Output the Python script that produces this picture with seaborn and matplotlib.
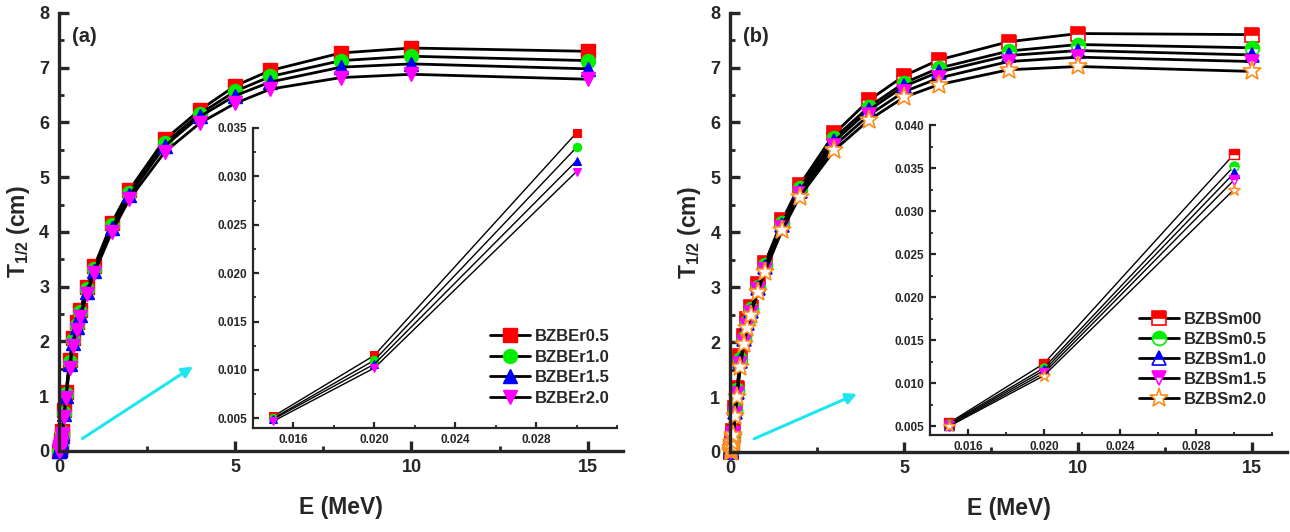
import matplotlib
matplotlib.use("Agg")
import matplotlib.pyplot as plt
import seaborn as sns
import pandas as pd
from matplotlib.ticker import MultipleLocator, FormatStrFormatter

# ---------------- data ----------------
energy = [0.015, 0.02, 0.03, 0.04, 0.05, 0.06, 0.08, 0.1, 0.15, 0.2, 0.3, 0.4, 0.5,
          0.6, 0.8, 1.0, 1.5, 2, 3, 4, 5, 6, 8, 10, 15]

# panel (a)
bzber05 = [0.0052, 0.0115, 0.0345, 0.075, 0.13, 0.20, 0.30, 0.36, 0.74, 1.08, 1.66, 2.06, 2.36,
           2.58, 3.00, 3.37, 4.17, 4.77, 5.69, 6.23, 6.67, 6.95, 7.27, 7.36, 7.30]
bzber10 = [0.0050, 0.0110, 0.0330, 0.072, 0.125, 0.19, 0.28, 0.34, 0.70, 1.04, 1.62, 2.02, 2.31,
           2.53, 2.95, 3.32, 4.12, 4.72, 5.62, 6.16, 6.57, 6.84, 7.13, 7.21, 7.13]
bzber15 = [0.0049, 0.0106, 0.0316, 0.069, 0.12, 0.18, 0.27, 0.33, 0.67, 1.01, 1.58, 1.98, 2.27,
           2.49, 2.91, 3.29, 4.08, 4.67, 5.57, 6.11, 6.49, 6.74, 7.01, 7.07, 6.98]
bzber20 = [0.0047, 0.0102, 0.0305, 0.066, 0.115, 0.17, 0.26, 0.31, 0.62, 0.97, 1.52, 1.91, 2.21,
           2.44, 2.87, 3.25, 4.00, 4.60, 5.46, 5.99, 6.35, 6.61, 6.82, 6.88, 6.79]
labels_a = ["BZBEr0.5", "BZBEr1.0", "BZBEr1.5", "BZBEr2.0"]

# panel (b)
bzbsm00 = [0.0054, 0.0123, 0.0366, 0.080, 0.14, 0.21, 0.31, 0.38, 0.80, 1.16, 1.74, 2.12, 2.42,
           2.64, 3.05, 3.44, 4.22, 4.86, 5.80, 6.41, 6.85, 7.14, 7.47, 7.62, 7.60]
bzbsm05 = [0.0053, 0.0118, 0.0352, 0.077, 0.135, 0.20, 0.30, 0.36, 0.76, 1.12, 1.69, 2.08, 2.37,
           2.60, 3.01, 3.40, 4.17, 4.80, 5.72, 6.29, 6.72, 6.99, 7.30, 7.42, 7.36]
bzbsm10 = [0.0052, 0.0115, 0.0344, 0.075, 0.13, 0.195, 0.29, 0.35, 0.73, 1.09, 1.65, 2.05, 2.34,
           2.57, 2.98, 3.37, 4.13, 4.75, 5.66, 6.23, 6.66, 6.92, 7.22, 7.31, 7.23]
bzbsm15 = [0.0051, 0.0112, 0.0336, 0.073, 0.125, 0.19, 0.28, 0.33, 0.70, 1.05, 1.60, 2.01, 2.30,
           2.54, 2.95, 3.32, 4.08, 4.70, 5.58, 6.14, 6.56, 6.81, 7.11, 7.19, 7.11]
bzbsm20 = [0.0050, 0.0109, 0.0325, 0.070, 0.12, 0.18, 0.27, 0.31, 0.66, 1.00, 1.55, 1.97, 2.25,
           2.50, 2.92, 3.28, 4.04, 4.65, 5.50, 6.05, 6.46, 6.69, 6.96, 7.02, 6.93]
labels_b = ["BZBSm00", "BZBSm0.5", "BZBSm1.0", "BZBSm1.5", "BZBSm2.0"]

n_inset = 3  # first three energies shown in the insets

# ---------------- style ----------------
sns.set_style("ticks")
plt.rcParams["font.family"] = ["Liberation Sans", "DejaVu Sans"]
plt.rcParams.update({
    "font.weight": "bold",
    "axes.labelweight": "bold",
    "mathtext.fontset": "custom",
    "mathtext.rm": "Liberation Sans:bold",
    "mathtext.bf": "Liberation Sans:bold",
    "mathtext.it": "Liberation Sans:bold",
})

fig = plt.figure(figsize=(12.9, 5.32), dpi=100)
axA = fig.add_axes([0.0457, 0.1523, 0.4372, 0.8233])
axB = fig.add_axes([0.5659, 0.1504, 0.4318, 0.8258])
inA = fig.add_axes([0.1961, 0.1955, 0.2822, 0.5640])
inB = fig.add_axes([0.7209, 0.1823, 0.2651, 0.5827])

style_a = [("s", "red", "full"), ("o", "#00ee00", "full"), ("^", "blue", "full"), ("v", "magenta", "full")]
style_b = [("s", "red", "top"), ("o", "#00ee00", "top"), ("^", "blue", "top"),
           ("v", "magenta", "top"), ("*", "#ff8c1a", "none")]


def draw(ax, x, y, label, st, ms, lw, mew):
    marker, color, fill = st
    kws = dict(marker=marker, markersize=ms, markeredgecolor=color, markeredgewidth=mew,
               markerfacecolor=color if fill != "none" else "white")
    if fill == "top":
        kws.update(fillstyle="top", markerfacecoloralt="white")
    sns.lineplot(x=x, y=y, ax=ax, color="black", lw=lw, label=label, legend=False,
                 errorbar=None, clip_on=False, **kws)


for ys, lab, st in zip([bzber05, bzber10, bzber15, bzber20], labels_a, style_a):
    draw(axA, energy, ys, lab, st, 10, 2.0, 1.0)
    draw(inA, energy[:n_inset], ys[:n_inset], lab, st, 6, 1.0, 0.8)

for ys, lab, st in zip([bzbsm00, bzbsm05, bzbsm10, bzbsm15, bzbsm20], labels_b, style_b):
    big = 14 if st[0] == "*" else 10
    small = 9 if st[0] == "*" else 6.5
    draw(axB, energy, ys, lab, st, big, 2.0, 1.2)
    draw(inB, energy[:n_inset], ys[:n_inset], lab, st, small, 1.0, 1.0)

for ax in (axA, axB, inA, inB):
    lg = ax.get_legend()
    if lg is not None:
        lg.remove()

# main axes formatting
for ax, tag in ((axA, "(a)"), (axB, "(b)")):
    ax.set_xlim(0, 16)
    ax.set_ylim(0, 8)
    ax.xaxis.set_major_locator(MultipleLocator(5))
    ax.xaxis.set_minor_locator(MultipleLocator(2.5))
    ax.yaxis.set_major_locator(MultipleLocator(1))
    ax.yaxis.set_minor_locator(MultipleLocator(0.5))
    for s in ("top", "right"):
        ax.spines[s].set_visible(False)
    for s in ("left", "bottom"):
        ax.spines[s].set_linewidth(2.4)
    ax.tick_params(which="major", direction="in", length=7, width=2.4, labelsize=13)
    ax.tick_params(which="minor", direction="in", length=3.5, width=2.0)
    ax.tick_params(axis="y", which="major", pad=7)
    ax.tick_params(axis="x", which="major", pad=6)
    ax.set_xlabel("E (MeV)", fontsize=16.5, fontweight="bold", labelpad=14)
    ax.set_ylabel(r"$\mathbf{T}_{\mathbf{1/2}}$ (cm)", fontsize=16.5, fontweight="bold", labelpad=5)
    ax.text(0.024, 0.968, tag, transform=ax.transAxes, ha="left", va="top",
            fontsize=14.5, fontweight="bold")
    ax.set_facecolor("white")

axA.annotate("", xy=(3.87, 1.57), xytext=(0.6, 0.2),
             arrowprops=dict(arrowstyle="-|>", color="#1ee6f0", lw=2.2, mutation_scale=16))
axB.annotate("", xy=(3.72, 1.08), xytext=(0.62, 0.22),
             arrowprops=dict(arrowstyle="-|>", color="#1ee6f0", lw=2.2, mutation_scale=16))

# inset formatting
for ax, ytop in ((inA, 0.035), (inB, 0.040)):
    ax.set_xlim(0.014, 0.032)
    ax.set_ylim(0.004, ytop)
    ax.xaxis.set_minor_locator(MultipleLocator(0.002))
    ax.yaxis.set_minor_locator(MultipleLocator(0.0025))
    ax.set_xticks([0.016, 0.020, 0.024, 0.028])
    ax.set_yticks([v / 1000 for v in range(5, int(round(ytop * 1000)) + 1, 5)])
    ax.xaxis.set_major_formatter(FormatStrFormatter("%.3f"))
    ax.yaxis.set_major_formatter(FormatStrFormatter("%.3f"))
    for s in ("top", "right"):
        ax.spines[s].set_visible(False)
    for s in ("left", "bottom"):
        ax.spines[s].set_linewidth(1.6)
    ax.tick_params(which="major", direction="in", length=4.5, width=1.6, labelsize=8.5, pad=4)
    ax.tick_params(which="minor", direction="in", length=2.5, width=1.3)
    ax.set_xlabel("")
    ax.set_ylabel("")
    ax.set_facecolor("white")

# legends
fig.legend(handles=axA.get_lines()[:4], labels=labels_a, loc="lower right",
           bbox_to_anchor=(0.479, 0.222), frameon=False,
           handlelength=2.4, handletextpad=0.3, labelspacing=0.33, borderpad=0.0,
           prop={"weight": "bold", "size": 12})
fig.legend(handles=axB.get_lines()[:5], labels=labels_b, loc="lower right",
           bbox_to_anchor=(0.989, 0.219), frameon=False,
           handlelength=2.4, handletextpad=0.3, labelspacing=0.3, borderpad=0.0,
           prop={"weight": "bold", "size": 12})

fig.savefig("out.png", dpi=100)
